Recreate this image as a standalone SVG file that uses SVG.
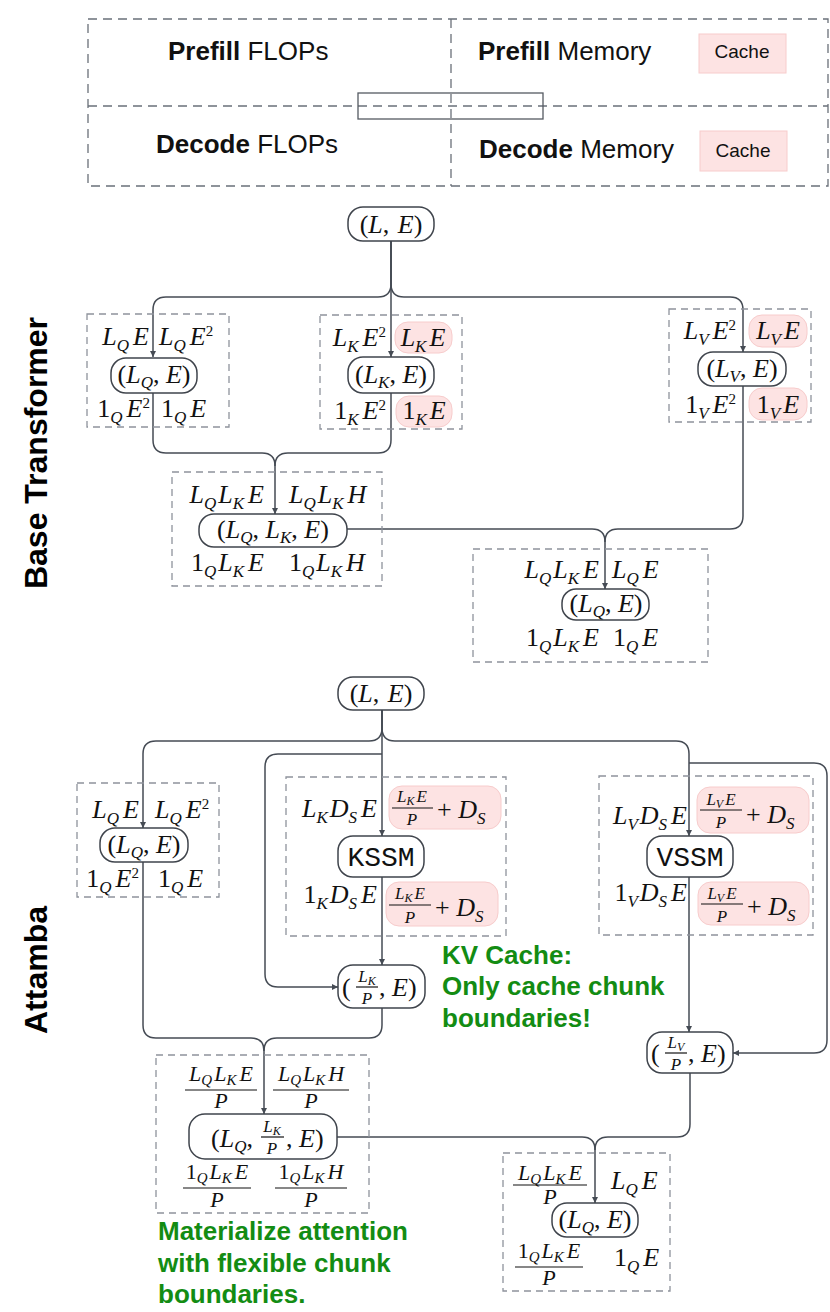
<svg xmlns="http://www.w3.org/2000/svg" width="830" height="1312" viewBox="0 0 830 1312">
<defs>
<style>
.lg{font-family:"Liberation Sans",Arial,sans-serif;font-size:26px;fill:#111}
.ca{font-family:"Liberation Sans",Arial,sans-serif;font-size:19px;fill:#111}
.side{font-family:"Liberation Sans",Arial,sans-serif;font-size:32px;font-weight:bold;fill:#000}
.gr{font-family:"Liberation Sans",Arial,sans-serif;font-size:26px;font-weight:bold;fill:#138c13}
.m{font-family:"Liberation Serif","Times New Roman",serif;font-style:italic;font-size:26px;fill:#111}
.mf{font-family:"Liberation Serif","Times New Roman",serif;font-style:italic;font-size:22px;fill:#111}
.mp{font-family:"Liberation Serif","Times New Roman",serif;font-style:italic;font-size:17px;fill:#111}
.u{font-style:normal}
.s{font-size:17px}
.sup{font-size:15px;font-style:normal}
.ss{font-size:15px}
.sp{font-size:12px}
.mono{font-family:"Liberation Mono","DejaVu Sans Mono",monospace;font-size:28px;fill:#111}
.dash{fill:none;stroke:#8e939c;stroke-width:1.3;stroke-dasharray:7 5}
.ldash{fill:none;stroke:#6a7079;stroke-width:1.3;stroke-dasharray:9 6}
.node{fill:#fff;stroke:#3f444c;stroke-width:1.5}
.pill{fill:#fde3e3;stroke:#f7cccc;stroke-width:1}
.bar{stroke:#111;stroke-width:1.2}
.con{fill:none;stroke:#454b54;stroke-width:1.5}
</style>
<marker id="ar" markerWidth="7" markerHeight="7" refX="6" refY="3" orient="auto" markerUnits="userSpaceOnUse"><path d="M0,0 L6,3 L0,6 z" fill="#454b54"/></marker>
</defs>
<rect width="830" height="1312" fill="#fff"/>

<g id="legend">
<rect class="ldash" x="88" y="19" width="740" height="167"/>
<line class="ldash" x1="88" y1="106" x2="828" y2="106"/>
<line class="ldash" x1="451" y1="19" x2="451" y2="186"/>
<rect x="358" y="93" width="185" height="26" fill="none" stroke="#555a62" stroke-width="1.3"/>
<text class="lg" x="168" y="60"><tspan font-weight="bold">Prefill</tspan> FLOPs</text>
<text class="lg" x="478" y="60"><tspan font-weight="bold">Prefill</tspan> Memory</text>
<text class="lg" x="156" y="153"><tspan font-weight="bold">Decode</tspan> FLOPs</text>
<text class="lg" x="479" y="158"><tspan font-weight="bold">Decode</tspan> Memory</text>
<rect class="pill" x="699" y="34" width="87" height="39"/>
<text class="ca" x="742" y="58" text-anchor="middle">Cache</text>
<rect class="pill" x="700" y="131" width="87" height="40"/>
<text class="ca" x="743" y="157" text-anchor="middle">Cache</text>
</g>

<text class="side" transform="translate(47,453) rotate(-90)" text-anchor="middle">Base Transformer</text>
<text class="side" transform="translate(47,970) rotate(-90)" text-anchor="middle">Attamba</text>

<g id="connectors">
<path class="con" d="M391,241 V284 Q391,297 378,297 H166 Q153,297 153,310 V357" marker-end="url(#ar)"/>
<path class="con" d="M391,241 V284 Q391,297 404,297 H730 Q743,297 743,310 V352" marker-end="url(#ar)"/>
<path class="con" d="M391,241 V357" marker-end="url(#ar)"/>
<path class="con" d="M153,393 V440 Q153,453 166,453 H262 Q275,453 275,466 V514" marker-end="url(#ar)"/>
<path class="con" d="M391,393 V440 Q391,453 378,453 H288 Q275,453 275,466"/>
<path class="con" d="M347,529 H592 Q605,529 605,542 V589" marker-end="url(#ar)"/>
<path class="con" d="M743,386 V516 Q743,529 730,529 H618 Q605,529 605,542"/>

<path class="con" d="M382,710 V728 Q382,741 369,741 H156 Q143,741 143,754 V828" marker-end="url(#ar)"/>
<path class="con" d="M382,710 V728 Q382,741 395,741 H676 Q689,741 689,754 V836" marker-end="url(#ar)"/>
<path class="con" d="M382,710 V836" marker-end="url(#ar)"/>
<path class="con" d="M382,877 V965" marker-end="url(#ar)"/>
<path class="con" d="M382,754 H278 Q265,754 265,767 V974 Q265,987 278,987 H338" marker-end="url(#ar)"/>
<path class="con" d="M689,877 V1032" marker-end="url(#ar)"/>
<path class="con" d="M689,763 H814 Q827,763 827,776 V1040 Q827,1053 814,1053 H733" marker-end="url(#ar)"/>
<path class="con" d="M143,862 V1025 Q143,1038 156,1038 H251 Q264,1038 264,1051 V1114" marker-end="url(#ar)"/>
<path class="con" d="M382,1008 V1025 Q382,1038 369,1038 H277 Q264,1038 264,1051"/>
<path class="con" d="M337,1137 H582 Q595,1137 595,1150 V1203" marker-end="url(#ar)"/>
<path class="con" d="M690,1073 V1124 Q690,1137 677,1137 H608 Q595,1137 595,1150"/>
</g>

<!-- Base transformer -->
<g id="bt-input">
<rect class="node" x="348" y="207" width="86" height="34" rx="15"/>
<text class="m" x="391" y="233" text-anchor="middle"><tspan class="u">(</tspan>L<tspan class="u">, </tspan><tspan dx="2">E</tspan><tspan class="u">)</tspan></text>
</g>

<g id="bt-q">
<rect class="dash" x="87" y="314" width="142" height="113"/>
<text class="m" x="149" y="345" text-anchor="end">L<tspan class="s" dy="6">Q</tspan><tspan dy="-6" dx="4">E</tspan></text>
<text class="m" x="159" y="345">L<tspan class="s" dy="6">Q</tspan><tspan dy="-6" dx="4">E</tspan><tspan class="sup" dy="-9">2</tspan></text>
<rect class="node" x="111" y="358" width="86" height="35" rx="15"/>
<text class="m" x="154" y="383" text-anchor="middle"><tspan class="u">(</tspan>L<tspan class="s" dy="5">Q</tspan><tspan class="u" dy="-5">, </tspan>E<tspan class="u">)</tspan></text>
<text class="m" x="150" y="417" text-anchor="end"><tspan class="u">1</tspan><tspan class="s" dy="6">Q</tspan><tspan dy="-6" dx="4">E</tspan><tspan class="sup" dy="-9">2</tspan></text>
<text class="m" x="161" y="417"><tspan class="u">1</tspan><tspan class="s" dy="6">Q</tspan><tspan dy="-6" dx="4">E</tspan></text>
</g>

<g id="bt-k">
<rect class="dash" x="320" y="315" width="142" height="114"/>
<text class="m" x="386" y="346" text-anchor="end">L<tspan class="s" dy="6">K</tspan><tspan dy="-6" dx="4">E</tspan><tspan class="sup" dy="-9">2</tspan></text>
<rect class="pill" x="395" y="322" width="57" height="31" rx="13"/>
<text class="m" x="423" y="346" text-anchor="middle">L<tspan class="s" dy="6">K</tspan><tspan dy="-6" dx="3">E</tspan></text>
<rect class="node" x="348" y="357" width="86" height="36" rx="15"/>
<text class="m" x="391" y="383" text-anchor="middle"><tspan class="u">(</tspan>L<tspan class="s" dy="5">K</tspan><tspan class="u" dy="-5">, </tspan>E<tspan class="u">)</tspan></text>
<text class="m" x="386" y="419" text-anchor="end"><tspan class="u">1</tspan><tspan class="s" dy="6">K</tspan><tspan dy="-6" dx="4">E</tspan><tspan class="sup" dy="-9">2</tspan></text>
<rect class="pill" x="396" y="396" width="56" height="31" rx="13"/>
<text class="m" x="424" y="419" text-anchor="middle"><tspan class="u">1</tspan><tspan class="s" dy="6">K</tspan><tspan dy="-6" dx="3">E</tspan></text>
</g>

<g id="bt-v">
<rect class="dash" x="669" y="309" width="142" height="113"/>
<text class="m" x="736" y="339" text-anchor="end">L<tspan class="s" dy="6">V</tspan><tspan dy="-6" dx="4">E</tspan><tspan class="sup" dy="-9">2</tspan></text>
<rect class="pill" x="749" y="315" width="58" height="32" rx="13"/>
<text class="m" x="778" y="339" text-anchor="middle">L<tspan class="s" dy="6">V</tspan><tspan dy="-6" dx="3">E</tspan></text>
<rect class="node" x="698" y="352" width="88" height="34" rx="15"/>
<text class="m" x="742" y="377" text-anchor="middle"><tspan class="u">(</tspan>L<tspan class="s" dy="5">V</tspan><tspan class="u" dy="-5">, </tspan>E<tspan class="u">)</tspan></text>
<text class="m" x="736" y="413" text-anchor="end"><tspan class="u">1</tspan><tspan class="s" dy="6">V</tspan><tspan dy="-6" dx="4">E</tspan><tspan class="sup" dy="-9">2</tspan></text>
<rect class="pill" x="749" y="388" width="58" height="32" rx="13"/>
<text class="m" x="778" y="413" text-anchor="middle"><tspan class="u">1</tspan><tspan class="s" dy="6">V</tspan><tspan dy="-6" dx="3">E</tspan></text>
</g>

<g id="bt-attn">
<rect class="dash" x="172" y="472" width="210" height="114"/>
<text class="m" x="264" y="503" text-anchor="end">L<tspan class="s" dy="6">Q</tspan><tspan dy="-6" dx="2">L</tspan><tspan class="s" dy="6">K</tspan><tspan dy="-6" dx="4">E</tspan></text>
<text class="m" x="289" y="503">L<tspan class="s" dy="6">Q</tspan><tspan dy="-6" dx="2">L</tspan><tspan class="s" dy="6">K</tspan><tspan dy="-6" dx="4">H</tspan></text>
<rect class="node" x="199" y="514" width="148" height="33" rx="15"/>
<text class="m" x="273" y="538" text-anchor="middle"><tspan class="u">(</tspan>L<tspan class="s" dy="5">Q</tspan><tspan class="u" dy="-5">, </tspan>L<tspan class="s" dy="5">K</tspan><tspan class="u" dy="-5">, </tspan>E<tspan class="u">)</tspan></text>
<text class="m" x="264" y="571" text-anchor="end"><tspan class="u">1</tspan><tspan class="s" dy="6">Q</tspan><tspan dy="-6" dx="2">L</tspan><tspan class="s" dy="6">K</tspan><tspan dy="-6" dx="4">E</tspan></text>
<text class="m" x="289" y="571"><tspan class="u">1</tspan><tspan class="s" dy="6">Q</tspan><tspan dy="-6" dx="2">L</tspan><tspan class="s" dy="6">K</tspan><tspan dy="-6" dx="4">H</tspan></text>
</g>

<g id="bt-out">
<rect class="dash" x="473" y="549" width="235" height="113"/>
<text class="m" x="599" y="578" text-anchor="end">L<tspan class="s" dy="6">Q</tspan><tspan dy="-6" dx="2">L</tspan><tspan class="s" dy="6">K</tspan><tspan dy="-6" dx="4">E</tspan></text>
<text class="m" x="612" y="578">L<tspan class="s" dy="6">Q</tspan><tspan dy="-6" dx="4">E</tspan></text>
<rect class="node" x="562" y="589" width="87" height="31" rx="14"/>
<text class="m" x="606" y="612" text-anchor="middle"><tspan class="u">(</tspan>L<tspan class="s" dy="5">Q</tspan><tspan class="u" dy="-5">, </tspan>E<tspan class="u">)</tspan></text>
<text class="m" x="599" y="646" text-anchor="end"><tspan class="u">1</tspan><tspan class="s" dy="6">Q</tspan><tspan dy="-6" dx="2">L</tspan><tspan class="s" dy="6">K</tspan><tspan dy="-6" dx="4">E</tspan></text>
<text class="m" x="613" y="646"><tspan class="u">1</tspan><tspan class="s" dy="6">Q</tspan><tspan dy="-6" dx="4">E</tspan></text>
</g>

<!-- Attamba -->
<g id="at-input">
<rect class="node" x="338" y="677" width="86" height="33" rx="15"/>
<text class="m" x="381" y="702" text-anchor="middle"><tspan class="u">(</tspan>L<tspan class="u">, </tspan><tspan dx="2">E</tspan><tspan class="u">)</tspan></text>
</g>

<g id="at-q">
<rect class="dash" x="77" y="783" width="142" height="114"/>
<text class="m" x="139" y="818" text-anchor="end">L<tspan class="s" dy="6">Q</tspan><tspan dy="-6" dx="4">E</tspan></text>
<text class="m" x="155" y="818">L<tspan class="s" dy="6">Q</tspan><tspan dy="-6" dx="4">E</tspan><tspan class="sup" dy="-9">2</tspan></text>
<rect class="node" x="100" y="828" width="88" height="34" rx="15"/>
<text class="m" x="144" y="853" text-anchor="middle"><tspan class="u">(</tspan>L<tspan class="s" dy="5">Q</tspan><tspan class="u" dy="-5">, </tspan>E<tspan class="u">)</tspan></text>
<text class="m" x="139" y="887" text-anchor="end"><tspan class="u">1</tspan><tspan class="s" dy="6">Q</tspan><tspan dy="-6" dx="4">E</tspan><tspan class="sup" dy="-9">2</tspan></text>
<text class="m" x="158" y="887"><tspan class="u">1</tspan><tspan class="s" dy="6">Q</tspan><tspan dy="-6" dx="4">E</tspan></text>
</g>

<g id="at-kssm">
<rect class="dash" x="286" y="777" width="220" height="159"/>
<text class="m" x="377" y="817" text-anchor="end">L<tspan class="s" dy="6">K</tspan><tspan dy="-6" dx="2">D</tspan><tspan class="s" dy="6">S</tspan><tspan dy="-6" dx="4">E</tspan></text>
<rect class="pill" x="389" y="786" width="112" height="43" rx="13"/>
<text class="mp" x="412" y="802" text-anchor="middle">L<tspan class="sp" dy="3">K</tspan><tspan dy="-3" dx="2">E</tspan></text>
<line class="bar" x1="392" y1="808" x2="433" y2="808"/>
<text class="mp" x="412" y="825" text-anchor="middle">P</text>
<text class="m" x="437" y="818"><tspan class="u">+ </tspan>D<tspan class="s" dy="6">S</tspan></text>
<rect class="node" x="338" y="836" width="86" height="41" rx="15"/>
<text class="mono" x="381" y="866" text-anchor="middle">KSSM</text>
<text class="m" x="377" y="903" text-anchor="end"><tspan class="u">1</tspan><tspan class="s" dy="6">K</tspan><tspan dy="-6" dx="2">D</tspan><tspan class="s" dy="6">S</tspan><tspan dy="-6" dx="4">E</tspan></text>
<rect class="pill" x="386" y="882" width="112" height="44" rx="13"/>
<text class="mp" x="410" y="899" text-anchor="middle">L<tspan class="sp" dy="3">K</tspan><tspan dy="-3" dx="2">E</tspan></text>
<line class="bar" x1="389" y1="905" x2="431" y2="905"/>
<text class="mp" x="410" y="923" text-anchor="middle">P</text>
<text class="m" x="435" y="916"><tspan class="u">+ </tspan>D<tspan class="s" dy="6">S</tspan></text>
</g>

<g id="at-kcache">
<rect class="node" x="338" y="965" width="87" height="43" rx="15"/>
<text class="m" x="342" y="996"><tspan class="u">(</tspan></text>
<text class="mp" x="367" y="982" text-anchor="middle">L<tspan class="sp" dy="3">K</tspan></text>
<line class="bar" x1="356" y1="987" x2="378" y2="987"/>
<text class="mp" x="367" y="1004" text-anchor="middle">P</text>
<text class="m" x="379" y="996"><tspan class="u">, </tspan>E<tspan class="u">)</tspan></text>
</g>

<g id="at-vssm">
<rect class="dash" x="599" y="776" width="214" height="159"/>
<text class="m" x="687" y="824" text-anchor="end">L<tspan class="s" dy="6">V</tspan><tspan dy="-6" dx="2">D</tspan><tspan class="s" dy="6">S</tspan><tspan dy="-6" dx="4">E</tspan></text>
<rect class="pill" x="697" y="787" width="112" height="46" rx="13"/>
<text class="mp" x="721" y="805" text-anchor="middle">L<tspan class="sp" dy="3">V</tspan><tspan dy="-3" dx="2">E</tspan></text>
<line class="bar" x1="700" y1="810" x2="742" y2="810"/>
<text class="mp" x="721" y="828" text-anchor="middle">P</text>
<text class="m" x="746" y="823"><tspan class="u">+ </tspan>D<tspan class="s" dy="6">S</tspan></text>
<rect class="node" x="647" y="836" width="86" height="41" rx="15"/>
<text class="mono" x="690" y="866" text-anchor="middle">VSSM</text>
<text class="m" x="687" y="901" text-anchor="end"><tspan class="u">1</tspan><tspan class="s" dy="6">V</tspan><tspan dy="-6" dx="2">D</tspan><tspan class="s" dy="6">S</tspan><tspan dy="-6" dx="4">E</tspan></text>
<rect class="pill" x="698" y="882" width="111" height="43" rx="13"/>
<text class="mp" x="722" y="899" text-anchor="middle">L<tspan class="sp" dy="3">V</tspan><tspan dy="-3" dx="2">E</tspan></text>
<line class="bar" x1="701" y1="904" x2="743" y2="904"/>
<text class="mp" x="722" y="922" text-anchor="middle">P</text>
<text class="m" x="747" y="915"><tspan class="u">+ </tspan>D<tspan class="s" dy="6">S</tspan></text>
</g>

<g id="at-vcache">
<rect class="node" x="647" y="1032" width="86" height="41" rx="15"/>
<text class="m" x="651" y="1062"><tspan class="u">(</tspan></text>
<text class="mp" x="676" y="1048" text-anchor="middle">L<tspan class="sp" dy="3">V</tspan></text>
<line class="bar" x1="665" y1="1053" x2="687" y2="1053"/>
<text class="mp" x="676" y="1070" text-anchor="middle">P</text>
<text class="m" x="688" y="1062"><tspan class="u">, </tspan>E<tspan class="u">)</tspan></text>
</g>

<g id="at-attn">
<rect class="dash" x="156" y="1055" width="213" height="158"/>
<text class="mf" x="221" y="1081" text-anchor="middle">L<tspan class="ss" dy="4">Q</tspan><tspan dy="-4" dx="2">L</tspan><tspan class="ss" dy="4">K</tspan><tspan dy="-4" dx="3">E</tspan></text>
<line class="bar" x1="185" y1="1090" x2="257" y2="1090"/>
<text class="mf" x="221" y="1108" text-anchor="middle">P</text>
<text class="mf" x="311" y="1081" text-anchor="middle">L<tspan class="ss" dy="4">Q</tspan><tspan dy="-4" dx="2">L</tspan><tspan class="ss" dy="4">K</tspan><tspan dy="-4" dx="3">H</tspan></text>
<line class="bar" x1="273" y1="1090" x2="349" y2="1090"/>
<text class="mf" x="311" y="1108" text-anchor="middle">P</text>
<rect class="node" x="189" y="1114" width="148" height="45" rx="16"/>
<text class="m" x="211" y="1147"><tspan class="u">(</tspan>L<tspan class="s" dy="5">Q</tspan><tspan class="u" dy="-5">,</tspan></text>
<text class="mp" x="272" y="1132" text-anchor="middle">L<tspan class="sp" dy="3">K</tspan></text>
<line class="bar" x1="261" y1="1137" x2="284" y2="1137"/>
<text class="mp" x="272" y="1154" text-anchor="middle">P</text>
<text class="m" x="286" y="1147"><tspan class="u">, </tspan>E<tspan class="u">)</tspan></text>
<text class="mf" x="217" y="1179" text-anchor="middle"><tspan class="u">1</tspan><tspan class="ss" dy="4">Q</tspan><tspan dy="-4" dx="2">L</tspan><tspan class="ss" dy="4">K</tspan><tspan dy="-4" dx="3">E</tspan></text>
<line class="bar" x1="183" y1="1188" x2="251" y2="1188"/>
<text class="mf" x="217" y="1207" text-anchor="middle">P</text>
<text class="mf" x="311" y="1179" text-anchor="middle"><tspan class="u">1</tspan><tspan class="ss" dy="4">Q</tspan><tspan dy="-4" dx="2">L</tspan><tspan class="ss" dy="4">K</tspan><tspan dy="-4" dx="3">H</tspan></text>
<line class="bar" x1="275" y1="1188" x2="347" y2="1188"/>
<text class="mf" x="311" y="1207" text-anchor="middle">P</text>
</g>

<g id="at-out">
<rect class="dash" x="503" y="1153" width="167" height="138"/>
<text class="mf" x="550" y="1180" text-anchor="middle">L<tspan class="ss" dy="4">Q</tspan><tspan dy="-4" dx="2">L</tspan><tspan class="ss" dy="4">K</tspan><tspan dy="-4" dx="3">E</tspan></text>
<line class="bar" x1="513" y1="1185" x2="587" y2="1185"/>
<text class="mf" x="550" y="1204" text-anchor="middle">P</text>
<text class="m" x="611" y="1189">L<tspan class="s" dy="6">Q</tspan><tspan dy="-6" dx="4">E</tspan></text>
<rect class="node" x="552" y="1203" width="86" height="34" rx="15"/>
<text class="m" x="595" y="1228" text-anchor="middle"><tspan class="u">(</tspan>L<tspan class="s" dy="5">Q</tspan><tspan class="u" dy="-5">, </tspan>E<tspan class="u">)</tspan></text>
<text class="mf" x="549" y="1258" text-anchor="middle"><tspan class="u">1</tspan><tspan class="ss" dy="4">Q</tspan><tspan dy="-4" dx="2">L</tspan><tspan class="ss" dy="4">K</tspan><tspan dy="-4" dx="3">E</tspan></text>
<line class="bar" x1="515" y1="1267" x2="583" y2="1267"/>
<text class="mf" x="549" y="1285" text-anchor="middle">P</text>
<text class="m" x="614" y="1266"><tspan class="u">1</tspan><tspan class="s" dy="6">Q</tspan><tspan dy="-6" dx="4">E</tspan></text>
</g>

<g id="notes">
<text class="gr" x="442" y="964">KV Cache:</text>
<text class="gr" x="442" y="995">Only cache chunk</text>
<text class="gr" x="442" y="1027">boundaries!</text>
<text class="gr" x="158" y="1240">Materialize attention</text>
<text class="gr" x="158" y="1272">with flexible chunk</text>
<text class="gr" x="158" y="1303">boundaries.</text>
</g>
</svg>
